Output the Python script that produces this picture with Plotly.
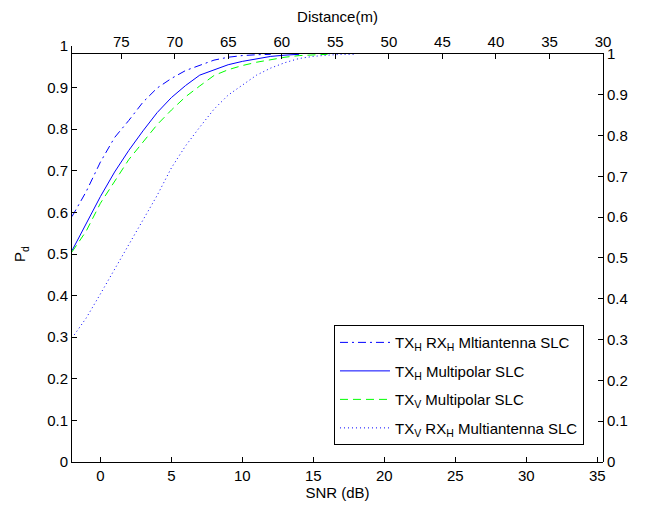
import plotly.graph_objects as go

# ---- data ----
snr_hh_multi = [-2, -1, 0, 1, 2, 3, 4, 5, 6, 7, 8, 9, 10, 11, 12]
pd_hh_multi = [0.59, 0.650, 0.721, 0.780, 0.821, 0.865, 0.899, 0.922, 0.941, 0.954,
               0.966, 0.973, 0.977, 0.979, 0.980]

snr_h_multipolar = [-2, -1, 0, 1, 2, 3, 4, 5, 6, 7, 8, 9, 10, 11, 12, 13, 14]
pd_h_multipolar = [0.508, 0.574, 0.638, 0.697, 0.749, 0.796, 0.840, 0.876, 0.905, 0.930,
                   0.943, 0.955, 0.963, 0.969, 0.975, 0.978, 0.980]

snr_v_multipolar = [-2, -1, 0, 1, 2, 3, 4, 5, 6, 7, 8, 9, 10, 11, 12, 13, 14, 15, 16]
pd_v_multipolar = [0.505, 0.555, 0.622, 0.673, 0.727, 0.769, 0.811, 0.846, 0.878, 0.904,
                   0.929, 0.943, 0.953, 0.961, 0.967, 0.973, 0.977, 0.979, 0.980]

snr_vh_multi = [-2, -1, 0, 1, 2, 3, 4, 5, 6, 7, 8, 9, 10, 11, 12, 13, 14, 15, 16, 17, 18]
pd_vh_multi = [0.298, 0.346, 0.404, 0.463, 0.522, 0.580, 0.641, 0.707, 0.760, 0.805,
               0.848, 0.882, 0.907, 0.930, 0.947, 0.960, 0.970, 0.975, 0.978, 0.980, 0.980]

snr_ticks = [0, 5, 10, 15, 20, 25, 30, 35]
distance_ticks = [30, 35, 40, 45, 50, 55, 60, 65, 70, 75]
pd_ticks = [0, 0.1, 0.2, 0.3, 0.4, 0.5, 0.6, 0.7, 0.8, 0.9, 1]
pd_ticktext = ["0", "0.1", "0.2", "0.3", "0.4", "0.5", "0.6", "0.7", "0.8", "0.9", "1"]

names = [
    "TX<sub>H</sub> RX<sub>H</sub> Mltiantenna SLC",
    "TX<sub>H</sub> Multipolar SLC",
    "TX<sub>V</sub> Multipolar SLC",
    "TX<sub>V</sub> RX<sub>H</sub> Multiantenna SLC",
]

FONT = "Liberation Sans, Arial, sans-serif"
FS = 15

fig = go.Figure()
fig.add_trace(go.Scatter(x=snr_hh_multi, y=pd_hh_multi, mode="lines", name=names[0],
                         legendgroup="a",
                         line=dict(color="#0000FF", width=1, dash="8px,4px,2px,4px")))
fig.add_trace(go.Scatter(x=snr_h_multipolar, y=pd_h_multipolar, mode="lines", name=names[1],
                         legendgroup="b",
                         line=dict(color="#0000FF", width=1)))
fig.add_trace(go.Scatter(x=snr_v_multipolar, y=pd_v_multipolar, mode="lines", name=names[2],
                         legendgroup="c",
                         line=dict(color="#00FF00", width=1, dash="8px,5px")))
fig.add_trace(go.Scatter(x=snr_vh_multi, y=pd_vh_multi, mode="lines", name=names[3],
                         legendgroup="d",
                         line=dict(color="#0000FF", width=1, dash="1px,3px")))
# helper trace to create the top/right axes pair
fig.add_trace(go.Scatter(x=[], y=[], xaxis="x2", yaxis="y2", showlegend=False,
                         hoverinfo="skip"))

axis_common = dict(showline=True, linecolor="black", linewidth=1, ticks="inside",
                   ticklen=5, tickcolor="black", tickwidth=1, showgrid=False,
                   zeroline=False, automargin=False,
                   tickfont=dict(family=FONT, size=FS, color="black"))

fig.update_layout(
    width=648, height=506,
    margin=dict(l=72, r=45, t=46, b=44),
    paper_bgcolor="white", plot_bgcolor="rgba(0,0,0,0)",
    font=dict(family=FONT, size=FS, color="black"),
    xaxis=dict(range=[-2, 35.4], tickmode="array", tickvals=snr_ticks,
               title=dict(text="SNR (dB)", standoff=2, font=dict(family=FONT, size=FS)),
               domain=[0, 1], anchor="y", **axis_common),
    yaxis=dict(range=[0, 1], tickmode="array", tickvals=pd_ticks, ticktext=pd_ticktext,
               title=dict(text="P<sub>d</sub>", standoff=17, font=dict(family=FONT, size=FS)),
               domain=[0, 1], anchor="x", **axis_common),
    xaxis2=dict(range=[79.6, 30], tickmode="array", tickvals=distance_ticks,
                side="top", anchor="y2", domain=[0, 1],
                title=dict(text="Distance(m)", standoff=6, font=dict(family=FONT, size=FS)),
                **axis_common),
    yaxis2=dict(range=[0, 1], tickmode="array", tickvals=pd_ticks, ticktext=pd_ticktext,
                side="right", anchor="x2", domain=[0, 0.9808], **axis_common),
    legend=dict(x=0.4934, y=0.329, xanchor="left", yanchor="top",
                bgcolor="white", bordercolor="black", borderwidth=1,
                font=dict(family=FONT, size=FS, color="black"),
                traceorder="grouped", tracegroupgap=6, itemwidth=50),
    showlegend=True,
)

fig.write_html("out.html", config={"displayModeBar": False},
               post_script="document.body.style.margin='0px';")
